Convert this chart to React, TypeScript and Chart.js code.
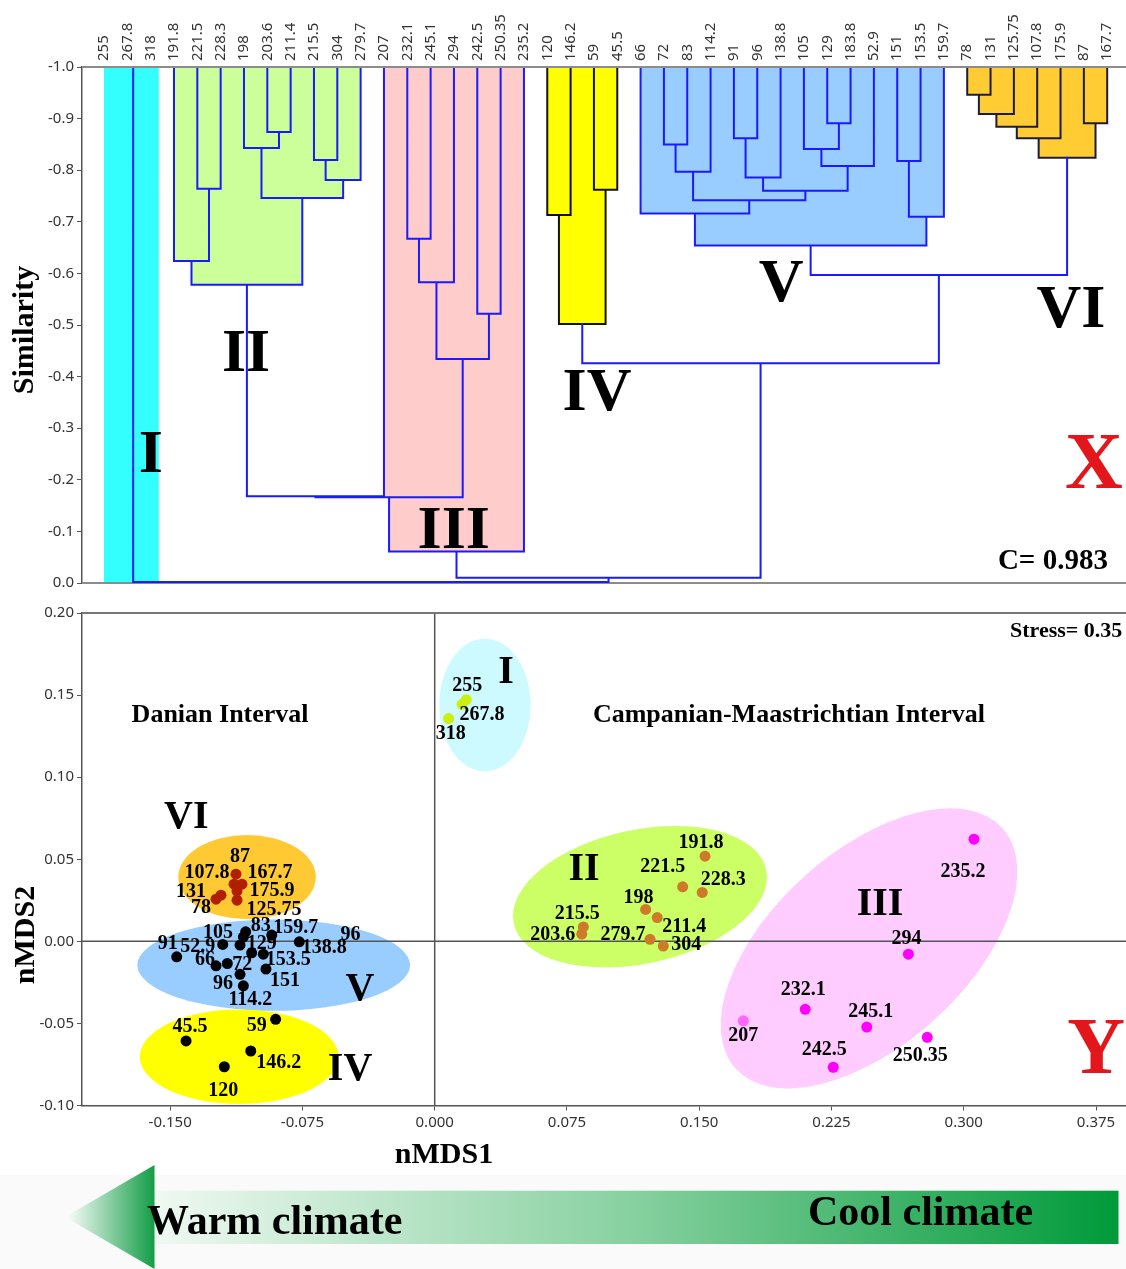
import React, { useEffect, useRef } from 'react';
import { Chart, registerables } from 'chart.js';

Chart.register(...registerables);

// ================= TOP PANEL: dendrogram =================
const leafLabels: string[] = [
  '255', '267.8', '318', '191.8', '221.5', '228.3', '198', '203.6', '211.4', '215.5', '304', '279.7',
  '207', '232.1', '245.1', '294', '242.5', '250.35', '235.2', '120', '146.2', '59', '45.5',
  '66', '72', '83', '114.2', '91', '96', '138.8', '105', '129', '183.8', '52.9', '151', '153.5', '159.7',
  '78', '131', '125.75', '107.8', '175.9', '87', '167.7',
];
const similarityTicks = [-1.0, -0.9, -0.8, -0.7, -0.6, -0.5, -0.4, -0.3, -0.2, -0.1, 0.0];

// agglomeration table: [child A, child B, similarity]; ids 0..43 = leaves, id 44+k = k-th merge
const linkage: [number, number, number][] = [
  [0, 1, -1.0], [44, 2, -1.0],
  [4, 5, -0.764], [3, 46, -0.624], [7, 8, -0.874], [6, 48, -0.843], [9, 10, -0.82], [50, 11, -0.781],
  [49, 51, -0.746], [47, 52, -0.578],
  [13, 14, -0.667], [54, 15, -0.583], [16, 17, -0.522], [55, 56, -0.434],
  [53, 12, -0.168], [58, 57, -0.166], [59, 18, -0.061],
  [19, 20, -0.713], [21, 22, -0.762], [61, 62, -0.502],
  [24, 25, -0.85], [64, 26, -0.797], [27, 28, -0.862], [66, 29, -0.786], [31, 32, -0.891], [30, 68, -0.841],
  [69, 33, -0.808], [67, 70, -0.76], [65, 71, -0.742], [23, 72, -0.716], [34, 35, -0.818], [74, 36, -0.71],
  [73, 75, -0.654],
  [37, 38, -0.946], [77, 39, -0.909], [78, 40, -0.884], [79, 41, -0.862], [42, 43, -0.891], [80, 81, -0.824],
  [76, 82, -0.597], [63, 83, -0.426], [60, 84, -0.01], [45, 85, -0.002],
];

const clusterNames = ['I', 'II', 'III', 'IV', 'V', 'VI'];
const clusterFirstLeaf = [0, 3, 12, 19, 23, 37];
const clusterLastLeaf = [2, 11, 18, 22, 36, 43];
const clusterRootNode = [86, 53, 60, 63, 76, 82];
const clusterTagX = [2.01, 6.09, 14.99, 21.13, 29.02, 41.45];
const clusterTagY = [-0.246, -0.442, -0.099, -0.366, -0.578, -0.527];
const panelXTag = { text: 'X', x: 42.43, y: -0.225 };
const copheneticNote = { text: 'C= 0.983', x: 43.03, y: -0.041 };

// ================= BOTTOM PANEL: nMDS =================
const nmds1Ticks = [-0.15, -0.075, 0, 0.075, 0.15, 0.225, 0.3, 0.375];
const nmds2Ticks = [-0.1, -0.05, 0, 0.05, 0.1, 0.15, 0.2];

const groupI: [string, number, number][] = [
  ['255', 0.0179, 0.1472], ['267.8', 0.0155, 0.1444], ['318', 0.0079, 0.1357],
];
const groupII: [string, number, number][] = [
  ['191.8', 0.1533, 0.0519], ['221.5', 0.1406, 0.0332], ['228.3', 0.1517, 0.0298], ['198', 0.1196, 0.0194],
  ['211.4', 0.1262, 0.0145], ['215.5', 0.0843, 0.0088], ['203.6', 0.0834, 0.0044], ['279.7', 0.1221, 0.0012],
  ['304', 0.1296, -0.0029],
];
const groupIII: [string, number, number][] = [
  ['235.2', 0.3058, 0.0622], ['294', 0.2686, -0.0078], ['232.1', 0.2101, -0.0414], ['207', 0.175, -0.0484],
  ['245.1', 0.245, -0.0522], ['250.35', 0.2793, -0.0585], ['242.5', 0.226, -0.0767],
];
const groupIV: [string, number, number][] = [
  ['59', -0.0902, -0.0475], ['45.5', -0.141, -0.0607], ['146.2', -0.1043, -0.0668], ['120', -0.1193, -0.0764],
];
const groupV: [string, number, number][] = [
  ['66', -0.124, -0.0149], ['72', -0.1176, -0.0135], ['83', -0.1072, 0.0058], ['114.2', -0.1085, -0.0271],
  ['91', -0.1463, -0.0094], ['96', -0.1104, -0.0201], ['138.8', -0.0768, -0.0003], ['105', -0.1104, -0.0023],
  ['129', -0.1038, -0.007], ['183.8', -0.1085, 0.0026], ['52.9', -0.1202, -0.0019], ['151', -0.0957, -0.0169],
  ['153.5', -0.0972, -0.0078], ['159.7', -0.0924, 0.0038],
];
const groupVI: [string, number, number][] = [
  ['78', -0.124, 0.0257], ['131', -0.1212, 0.0281], ['125.75', -0.1121, 0.0251], ['107.8', -0.1138, 0.0348],
  ['175.9', -0.1121, 0.0306], ['87', -0.1127, 0.0409], ['167.7', -0.1093, 0.0348],
];
const groupPoints = [groupI, groupII, groupIII, groupIV, groupV, groupVI];

// confidence ellipses (centre, semi-axes in axis units, tilt in degrees)
const ellipseCx = [0.0285, 0.1164, 0.2463, -0.1109, -0.0913, -0.1064];
const ellipseCy = [0.1439, 0.0272, -0.0043, -0.0703, -0.0145, 0.0391];
const ellipseRx = [0.0259, 0.0732, 0.1018, 0.0563, 0.0773, 0.039];
const ellipseRy = [0.0404, 0.0408, 0.059, 0.0288, 0.0278, 0.0257];
const ellipseTilt = [0, 12, 42, 0, 0, 0];

const nmdsTagX = [0.0404, 0.0847, 0.2525, -0.048, -0.0424, -0.1409];
const nmdsTagY = [0.1638, 0.0439, 0.0221, -0.0784, -0.0297, 0.0756];
const intervalNames = ['Danian Interval', 'Campanian-Maastrichtian Interval'];
const intervalX = [-0.1217, 0.2009];
const intervalY = [0.1377, 0.1377];
const stressNote = { text: 'Stress= 0.35', x: 0.3262, y: 0.1888 };
const panelYTag = { text: 'Y', x: 0.375, y: -0.0674 };
const strayLabel = { text: '96', x: -0.0477, y: 0.0038 };

// ================= styles =================
const SERIF = '"Liberation Serif", "Times New Roman", serif';
const SANS = '"Noto Sans", "Open Sans", sans-serif';
const LINK_BLUE = '#1a1aff';
const clusterFillColors = ['#33ffff', '#ccff99', '#ffcccc', '#ffff00', '#99ccff', '#ffcc33'];
const clusterLineColors = [LINK_BLUE, LINK_BLUE, LINK_BLUE, '#111111', LINK_BLUE, '#1c1c3a'];
const clusterBlock = [true, false, false, false, false, false];
const clusterPadRight = [0.35, 0, 0, 0, 0, 0];
const ellipseColors = ['#ccfaff', '#ccff66', '#ffccff', '#ffff00', '#99ccff', '#ffc933'];
const ellipseOrder = [4, 3, 5, 0, 2, 1];
const groupPointColors = ['#ccee11', '#cd7a2a', '#ff00ff', '#000000', '#000000', '#b02000'];
const pointColorOverride: Record<string, string> = { '207': '#ff66ff' };
const labelOffsets: Record<string, [number, number]> = {
  '255': [1, -14], '267.8': [20, 11], '318': [2, 15],
  '191.8': [-4, -13], '221.5': [-20, -20], '228.3': [21, -13], '198': [-7, -12], '211.4': [27, 9],
  '215.5': [-6, -13], '203.6': [-29, 1], '279.7': [-27, -5], '304': [23, -1],
  '235.2': [-11, 33], '294': [-2, -15], '232.1': [-2, -19], '207': [0, 15], '245.1': [4, -15],
  '250.35': [-7, 18], '242.5': [-9, -17],
  '59': [-19, 7], '45.5': [4, -14], '146.2': [28, 12], '120': [-1, 24],
  '91': [-9, -13], '52.9': [-25, 2], '105': [-22, -12], '83': [15, -6], '159.7': [24, -7], '129': [10, -9],
  '138.8': [25, 6], '66': [-11, -6], '72': [15, 1], '153.5': [25, 6], '96': [-17, 9], '151': [19, 12],
  '114.2': [7, 14],
  '87': [4, -17], '167.7': [28, -11], '107.8': [-27, -11], '175.9': [35, 0], '125.75': [37, 10],
  '131': [-30, -3], '78': [-15, 9],
};

// ================= dendrogram geometry from the linkage =================
const nLeaf = leafLabels.length;
const nodeX: number[] = leafLabels.map((_, i) => i);
const nodeH: number[] = leafLabels.map(() => -1);
const nodeLo: number[] = leafLabels.map((_, i) => i);
const nodeHi: number[] = leafLabels.map((_, i) => i);
const parentOf: number[] = [];
linkage.forEach(([a, b, h], k) => {
  const id = nLeaf + k;
  nodeX[id] = (nodeX[a] + nodeX[b]) / 2;
  nodeH[id] = h;
  nodeLo[id] = Math.min(nodeLo[a], nodeLo[b]);
  nodeHi[id] = Math.max(nodeHi[a], nodeHi[b]);
  parentOf[a] = id;
  parentOf[b] = id;
});

function linkColor(id: number): string {
  for (let c = 0; c < clusterNames.length; c++) {
    if (nodeLo[id] >= clusterFirstLeaf[c] && nodeHi[id] <= clusterLastLeaf[c]) return clusterLineColors[c];
  }
  return LINK_BLUE;
}

function linkDatasets() {
  const byColor = new Map<string, { x: number; y: number }[]>();
  linkage.forEach(([a, b, h], k) => {
    const col = linkColor(nLeaf + k);
    if (!byColor.has(col)) byColor.set(col, []);
    byColor.get(col)!.push(
      { x: nodeX[a], y: nodeH[a] }, { x: nodeX[a], y: h }, { x: nodeX[b], y: h }, { x: nodeX[b], y: nodeH[b] },
      { x: NaN, y: NaN },
    );
  });
  return [...byColor.entries()].map(([color, data]) => ({
    data, showLine: true, borderColor: color, borderWidth: 2, pointRadius: 0, pointHoverRadius: 0,
    tension: 0, spanGaps: false, borderJoinStyle: 'miter', borderCapStyle: 'square',
  }));
}

function clusterPolygon(c: number, bottom: number): [number, number][] {
  const lo = clusterFirstLeaf[c];
  const hi = clusterLastLeaf[c];
  const root = clusterRootNode[c];
  if (clusterBlock[c]) {
    const r = hi + clusterPadRight[c];
    return [[lo, -1], [lo, bottom], [r, bottom], [r, -1]];
  }
  const walk = (leaf: number) => {
    const pts: [number, number][] = [[nodeX[leaf], -1]];
    let cur = leaf;
    let x = nodeX[leaf];
    while (cur !== root && parentOf[cur] !== undefined) {
      const p = parentOf[cur];
      pts.push([x, nodeH[p]]);
      x = Math.min(Math.max(nodeX[p], lo), hi);
      pts.push([x, nodeH[p]]);
      cur = p;
    }
    return pts;
  };
  return [...walk(lo), ...walk(hi).reverse()];
}

function text(ctx: any, s: string, x: number, y: number, font: string, color = '#000', align = 'center', base = 'middle') {
  ctx.font = font;
  ctx.fillStyle = color;
  ctx.textAlign = align;
  ctx.textBaseline = base;
  ctx.fillText(s, x, y);
}

const dendroPlugin = {
  id: 'dendroDecor',
  beforeDatasetsDraw(chart: any) {
    const { ctx, chartArea: ca, scales } = chart;
    const x = scales.x;
    const y = scales.y;
    ctx.save();
    clusterNames.forEach((_, c) => {
      const poly = clusterPolygon(c, y.max);
      ctx.beginPath();
      poly.forEach(([vx, vy], i) => {
        const px = x.getPixelForValue(vx);
        const py = y.getPixelForValue(vy);
        if (i === 0) ctx.moveTo(px, py); else ctx.lineTo(px, py);
      });
      ctx.closePath();
      ctx.fillStyle = clusterFillColors[c];
      ctx.fill();
    });
    ctx.strokeStyle = '#8c8c8c';
    ctx.lineWidth = 2;
    ctx.beginPath();
    ctx.moveTo(ca.left, ca.bottom);
    ctx.lineTo(ca.right, ca.bottom);
    ctx.stroke();
    ctx.restore();
  },
  afterDatasetsDraw(chart: any) {
    const { ctx, chartArea: ca, scales } = chart;
    const x = scales.x;
    const y = scales.y;
    ctx.save();
    ctx.strokeStyle = '#8c8c8c';
    ctx.lineWidth = 2;
    ctx.beginPath();
    ctx.moveTo(ca.left, ca.top);
    ctx.lineTo(ca.right, ca.top);
    ctx.stroke();
    // leaf labels (rotated, reading upward)
    leafLabels.forEach((lab, i) => {
      ctx.save();
      ctx.translate(x.getPixelForValue(i), ca.top - 6);
      ctx.rotate(-Math.PI / 2);
      text(ctx, lab, 0, 0, `15px ${SANS}`, '#333', 'left', 'middle');
      ctx.restore();
    });
    clusterNames.forEach((nm, c) => {
      text(ctx, nm, x.getPixelForValue(clusterTagX[c]), y.getPixelForValue(clusterTagY[c]), `bold 62px ${SERIF}`);
    });
    text(ctx, panelXTag.text, x.getPixelForValue(panelXTag.x), y.getPixelForValue(panelXTag.y), `bold 80px ${SERIF}`, '#e3161b');
    text(ctx, copheneticNote.text, x.getPixelForValue(copheneticNote.x), y.getPixelForValue(copheneticNote.y), `bold 29px ${SERIF}`, '#000', 'right');
    ctx.restore();
  },
  afterDraw(chart: any) {
    const { ctx, chartArea: ca } = chart;
    ctx.save();
    ctx.translate(25, (ca.top + ca.bottom) / 2 + 5);
    ctx.rotate(-Math.PI / 2);
    text(ctx, 'Similarity', 0, 0, `bold 30px ${SERIF}`);
    ctx.restore();
  },
};

const scatterPlugin = {
  id: 'nmdsDecor',
  beforeDraw(chart: any) {
    const { ctx, width, height } = chart;
    ctx.save();
    ctx.fillStyle = '#ffffff';
    ctx.fillRect(0, 0, width, height);
    ctx.fillStyle = '#fafafa';
    ctx.fillRect(0, 575, width, height - 575);
    ctx.restore();
  },
  beforeDatasetsDraw(chart: any) {
    const { ctx, chartArea: ca, scales } = chart;
    const x = scales.x;
    const y = scales.y;
    ctx.save();
    ellipseOrder.forEach((e) => {
      const cx = x.getPixelForValue(ellipseCx[e]);
      const cy = y.getPixelForValue(ellipseCy[e]);
      const rx = Math.abs(x.getPixelForValue(ellipseCx[e] + ellipseRx[e]) - cx);
      const ry = Math.abs(y.getPixelForValue(ellipseCy[e] + ellipseRy[e]) - cy);
      ctx.beginPath();
      ctx.ellipse(cx, cy, rx, ry, (-ellipseTilt[e] * Math.PI) / 180, 0, Math.PI * 2);
      ctx.fillStyle = ellipseColors[e];
      ctx.fill();
    });
    ctx.strokeStyle = '#555';
    ctx.lineWidth = 1.5;
    const x0 = x.getPixelForValue(0);
    const y0 = y.getPixelForValue(0);
    ctx.beginPath();
    ctx.moveTo(x0, ca.top);
    ctx.lineTo(x0, ca.bottom);
    ctx.moveTo(ca.left, y0);
    ctx.lineTo(ca.right, y0);
    ctx.stroke();
    ctx.strokeStyle = '#777';
    ctx.lineWidth = 2;
    ctx.beginPath();
    ctx.moveTo(ca.left, ca.top);
    ctx.lineTo(ca.right, ca.top);
    ctx.stroke();
    ctx.restore();
  },
  afterDatasetsDraw(chart: any) {
    const { ctx, scales } = chart;
    const x = scales.x;
    const y = scales.y;
    ctx.save();
    groupPoints.forEach((pts) => pts.forEach(([nm, vx, vy]) => {
      const off = labelOffsets[nm];
      if (!off) return;
      text(ctx, nm, x.getPixelForValue(vx) + off[0], y.getPixelForValue(vy) + off[1], `bold 20px ${SERIF}`);
    }));
    text(ctx, strayLabel.text, x.getPixelForValue(strayLabel.x), y.getPixelForValue(strayLabel.y), `bold 20px ${SERIF}`);
    clusterNames.forEach((nm, c) => {
      text(ctx, nm, x.getPixelForValue(nmdsTagX[c]), y.getPixelForValue(nmdsTagY[c]), `bold 40px ${SERIF}`);
    });
    intervalNames.forEach((nm, i) => {
      text(ctx, nm, x.getPixelForValue(intervalX[i]), y.getPixelForValue(intervalY[i]), `bold 26px ${SERIF}`);
    });
    text(ctx, stressNote.text, x.getPixelForValue(stressNote.x), y.getPixelForValue(stressNote.y), `bold 22px ${SERIF}`, '#000', 'left');
    text(ctx, panelYTag.text, x.getPixelForValue(panelYTag.x), y.getPixelForValue(panelYTag.y), `bold 80px ${SERIF}`, '#e3161b');
    ctx.restore();
  },
  afterDraw(chart: any) {
    const { ctx } = chart;
    ctx.save();
    // axis titles
    text(ctx, 'nMDS1', 444, 555, `bold 30px ${SERIF}`);
    ctx.save();
    ctx.translate(26, 335);
    ctx.rotate(-Math.PI / 2);
    text(ctx, 'nMDS2', 0, 0, `bold 30px ${SERIF}`);
    ctx.restore();
    // climate gradient arrow
    const tipX = 65, baseX = 154.5, midY = 617, headHalf = 52;
    const barTop = 590.7, barBot = 644, barEnd = 1118.5;
    const gb = ctx.createLinearGradient(baseX, 0, barEnd, 0);
    gb.addColorStop(0, '#eff9f2');
    gb.addColorStop(0.5, '#86d09f');
    gb.addColorStop(1, '#009a3a');
    ctx.fillStyle = gb;
    ctx.fillRect(baseX, barTop, barEnd - baseX, barBot - barTop);
    const gh = ctx.createLinearGradient(tipX, 0, baseX, 0);
    gh.addColorStop(0, '#ffffff');
    gh.addColorStop(1, '#139d47');
    ctx.fillStyle = gh;
    ctx.beginPath();
    ctx.moveTo(tipX, midY);
    ctx.lineTo(baseX, midY - headHalf);
    ctx.lineTo(baseX, midY + headHalf);
    ctx.closePath();
    ctx.fill();
    text(ctx, 'Warm climate', 147, 634, `bold 42px ${SERIF}`, '#000', 'left', 'alphabetic');
    text(ctx, 'Cool climate', 808, 625, `bold 42px ${SERIF}`, '#000', 'left', 'alphabetic');
    ctx.restore();
  },
};

export default function App() {
  const dRef = useRef<HTMLCanvasElement>(null);
  const sRef = useRef<HTMLCanvasElement>(null);

  useEffect(() => {
    const tickFont = { family: SANS, size: 15 };
    const dendro = new Chart(dRef.current as HTMLCanvasElement, {
      type: 'scatter',
      data: { datasets: linkDatasets() as any },
      options: {
        responsive: false,
        animation: false,
        events: [],
        layout: { autoPadding: false, padding: { left: 0, right: 0, top: 0, bottom: 17 } },
        plugins: { legend: { display: false }, tooltip: { enabled: false } },
        scales: {
          x: {
            type: 'linear', position: 'top', min: -0.943, max: 43.806,
            afterFit: (s: any) => { s.height = 67; },
            grid: { display: false },
            border: { display: true, color: '#8c8c8c', width: 2 },
            ticks: { display: false },
          },
          y: {
            type: 'linear', reverse: true, min: -1, max: 0,
            afterBuildTicks: (s: any) => { s.ticks = similarityTicks.map((v) => ({ value: v })); },
            afterFit: (s: any) => { s.width = 82; },
            grid: { display: true, drawOnChartArea: false, drawTicks: true, tickLength: 5, color: '#555' },
            border: { display: true, color: '#555', width: 1.5 },
            ticks: { padding: 3, color: '#333', font: tickFont, callback: (v: any) => Number(v).toFixed(1) },
          },
        },
      } as any,
      plugins: [dendroPlugin as any],
    });

    const scatter = new Chart(sRef.current as HTMLCanvasElement, {
      type: 'scatter',
      data: {
        datasets: groupPoints.map((pts, g) => ({
          data: pts.map(([, vx, vy]) => ({ x: vx, y: vy })),
          pointRadius: 5.5,
          pointHoverRadius: 5.5,
          pointBorderWidth: 0,
          pointBackgroundColor: pts.map(([nm]) => pointColorOverride[nm] || groupPointColors[g]),
          borderColor: 'rgba(0,0,0,0)',
        })),
      },
      options: {
        responsive: false,
        animation: false,
        events: [],
        layout: { autoPadding: false, padding: { left: 0, right: 0, top: 13, bottom: 123.5 } },
        plugins: { legend: { display: false }, tooltip: { enabled: false } },
        scales: {
          x: {
            type: 'linear', min: -0.2, max: 0.392,
            afterBuildTicks: (s: any) => { s.ticks = nmds1Ticks.map((v) => ({ value: v })); },
            afterFit: (s: any) => { s.height = 40; },
            grid: { display: true, drawOnChartArea: false, drawTicks: true, tickLength: 5, color: '#555' },
            border: { display: true, color: '#555', width: 1.5 },
            ticks: { padding: 3, color: '#333', font: tickFont, callback: (v: any) => Number(v).toFixed(3) },
          },
          y: {
            type: 'linear', min: -0.1, max: 0.2,
            afterBuildTicks: (s: any) => { s.ticks = nmds2Ticks.map((v) => ({ value: v })); },
            afterFit: (s: any) => { s.width = 82; },
            grid: { display: true, drawOnChartArea: false, drawTicks: true, tickLength: 5, color: '#555' },
            border: { display: true, color: '#555', width: 1.5 },
            ticks: { padding: 3, color: '#333', font: tickFont, callback: (v: any) => Number(v).toFixed(2) },
          },
        },
      } as any,
      plugins: [scatterPlugin as any],
    });

    return () => {
      dendro.destroy();
      scatter.destroy();
    };
  }, []);

  return (
    <div style={{ position: 'absolute', left: 0, top: 0, width: 1126, height: 1269, background: '#ffffff', overflow: 'hidden' }}>
      <canvas ref={dRef} width={1126} height={600} style={{ position: 'absolute', left: 0, top: 0, width: 1126, height: 600 }} />
      <canvas ref={sRef} width={1126} height={669} style={{ position: 'absolute', left: 0, top: 600, width: 1126, height: 669 }} />
    </div>
  );
}
